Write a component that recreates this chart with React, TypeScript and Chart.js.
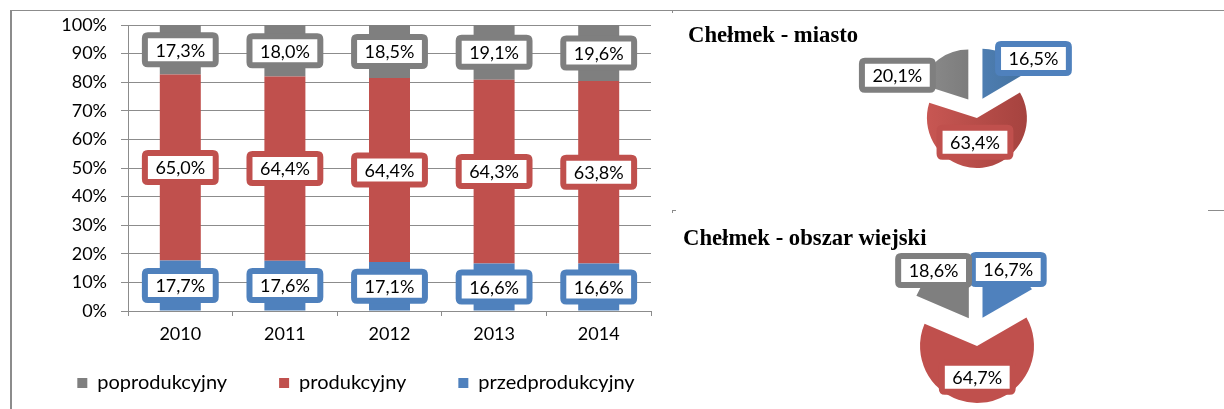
import { useEffect, useRef } from "react";
import { Chart, registerables } from "chart.js";

Chart.register(...registerables);

// ---------- data ----------
const years = ["2010", "2011", "2012", "2013", "2014"];
const przedprodukcyjny = [17.7, 17.6, 17.1, 16.6, 16.6];
const produkcyjny = [65.0, 64.4, 64.4, 64.3, 63.8];
const poprodukcyjny = [17.3, 18.0, 18.5, 19.1, 19.6];

const seriesNames = ["przedprodukcyjny", "produkcyjny", "poprodukcyjny"];
const miastoValues = [16.5, 63.4, 20.1];
const wiejskiValues = [16.7, 64.7, 18.6];
const pieTitles = ["Chełmek - miasto", "Chełmek - obszar wiejski"];

// ---------- styles ----------
const BLUE = "#4F81BD";
const RED = "#C0504D";
const GRAY = "#7F7F7F";
const GRID = "#8C8C8C";
const FONT = "Lato, 'Open Sans', sans-serif";
const TEXT = "#000000";
const PIE_COLORS = [BLUE, RED, GRAY];
// light/dark ends for the shaded (city) pie
const SHADE = [
  ["#5A8CC8", "#44729F"],
  ["#C85753", "#A6433F"],
  ["#8A8A8A", "#6A6A6A"],
];

const fmt = (v: number) => v.toFixed(1).replace(".", ",") + "%";

function drawLabelBox(ctx: CanvasRenderingContext2D, x: number, y: number, text: string, color: string) {
  ctx.save();
  ctx.font = `18px ${FONT}`;
  const tw = ctx.measureText(text).width;
  const w = tw + 21;
  const h = 29;
  const r = 3;
  const l = x - w / 2, t = y - h / 2;
  ctx.beginPath();
  ctx.moveTo(l + r, t);
  ctx.lineTo(l + w - r, t);
  ctx.quadraticCurveTo(l + w, t, l + w, t + r);
  ctx.lineTo(l + w, t + h - r);
  ctx.quadraticCurveTo(l + w, t + h, l + w - r, t + h);
  ctx.lineTo(l + r, t + h);
  ctx.quadraticCurveTo(l, t + h, l, t + h - r);
  ctx.lineTo(l, t + r);
  ctx.quadraticCurveTo(l, t, l + r, t);
  ctx.closePath();
  ctx.fillStyle = "#ffffff";
  ctx.fill();
  ctx.lineWidth = 6;
  ctx.strokeStyle = color;
  ctx.stroke();
  ctx.fillStyle = TEXT;
  ctx.textAlign = "center";
  ctx.textBaseline = "middle";
  ctx.fillText(text, x, y + 1);
  ctx.restore();
}

const barLabelPlugin = {
  id: "barLabels",
  afterDatasetsDraw(chart: any) {
    const ctx = chart.ctx;
    chart.data.datasets.forEach((ds: any, di: number) => {
      const meta = chart.getDatasetMeta(di);
      meta.data.forEach((bar: any, i: number) => {
        const { x, y, base } = bar.getProps(["x", "y", "base"], true);
        drawLabelBox(ctx, x, (y + base) / 2, fmt(ds.data[i]), ds.backgroundColor);
      });
    });
  },
};

// moves the top of the legend box up so that its wide item spacing fits
const legendShiftPlugin = {
  id: "legendShift",
  afterLayout(chart: any, _args: any, opts: any) {
    const lg = chart.legend;
    if (lg && opts && opts.dy) {
      lg.top += opts.dy;
    }
  },
};

const piePlugin = {
  id: "pieExtras",
  afterDatasetUpdate(chart: any, args: any, opts: any) {
    const meta = chart.getDatasetMeta(args.index);
    meta.data.forEach((arc: any, i: number) => {
      const mid = (arc.startAngle + arc.endAngle) / 2;
      const d = (opts.explode && opts.explode[i]) || 0;
      arc.x += Math.cos(mid) * d;
      arc.y += Math.sin(mid) * d;
    });
  },
  afterDatasetsDraw(chart: any, _args: any, opts: any) {
    const ctx = chart.ctx;
    const meta = chart.getDatasetMeta(0);
    const ds = chart.data.datasets[0];
    meta.data.forEach((arc: any, i: number) => {
      const ang = (arc.startAngle + arc.endAngle) / 2 + (opts.labelShift[i] * Math.PI) / 180;
      const dist = opts.labelDist[i] * arc.outerRadius;
      drawLabelBox(ctx, arc.x + Math.cos(ang) * dist, arc.y + Math.sin(ang) * dist, fmt(ds.data[i]), PIE_COLORS[i]);
    });
  },
};

function makePie(canvas: HTMLCanvasElement, values: number[], radius: number, shaded: boolean, extras: any) {
  const bg = shaded
    ? (c: any) => {
        const area = c.chart.chartArea;
        if (!area) return PIE_COLORS[c.dataIndex];
        const cx = (area.left + area.right) / 2;
        const g = c.chart.ctx.createLinearGradient(cx - radius, 0, cx + radius, 0);
        g.addColorStop(0, SHADE[c.dataIndex][0]);
        g.addColorStop(1, SHADE[c.dataIndex][1]);
        return g;
      }
    : PIE_COLORS;
  return new Chart(canvas, {
    type: "pie",
    data: {
      labels: seriesNames,
      datasets: [
        {
          data: values,
          backgroundColor: bg,
          borderWidth: 0,
          radius: radius,
        } as any,
      ],
    },
    options: {
      animation: false,
      responsive: false,
      events: [],
      layout: { padding: 0 },
      plugins: {
        legend: { display: false },
        tooltip: { enabled: false },
        pieExtras: extras,
      } as any,
    },
    plugins: [piePlugin],
  });
}

export default function App() {
  const barRef = useRef<HTMLCanvasElement>(null);
  const pie1Ref = useRef<HTMLCanvasElement>(null);
  const pie2Ref = useRef<HTMLCanvasElement>(null);

  useEffect(() => {
    const tickFont = { family: FONT, size: 18 };
    const bar = new Chart(barRef.current!, {
      type: "bar",
      data: {
        labels: years,
        datasets: [
          { label: seriesNames[0], data: przedprodukcyjny, backgroundColor: BLUE, borderWidth: 0 },
          { label: seriesNames[1], data: produkcyjny, backgroundColor: RED, borderWidth: 0 },
          { label: seriesNames[2], data: poprodukcyjny, backgroundColor: GRAY, borderWidth: 0 },
        ],
      },
      options: {
        animation: false,
        responsive: false,
        events: [],
        layout: { padding: { left: 6, right: 0, top: 25, bottom: 0 } },
        datasets: { bar: { barPercentage: 0.392, categoryPercentage: 1 } },
        scales: {
          x: {
            stacked: true,
            grid: { offset: true, drawOnChartArea: false, drawTicks: true, tickLength: 5, color: GRID },
            border: { color: GRID },
            ticks: { font: tickFont, color: TEXT, padding: 7 },
            afterFit: (s: any) => {
              s.height = 40;
            },
          },
          y: {
            stacked: true,
            min: 0,
            max: 100,
            ticks: { stepSize: 10, callback: (v: any) => v + "%", font: tickFont, color: TEXT, padding: 14 },
            grid: { color: GRID, tickLength: 7 },
            border: { color: GRID },
            afterFit: (s: any) => {
              s.width = 122;
            },
          },
          // empty right-hand spacer so that the legend can be wider than the plot
          spacer: {
            type: "linear",
            position: "right",
            grid: { display: false, drawTicks: false },
            border: { display: false },
            ticks: { display: false },
            afterFit: (s: any) => {
              s.width = 55;
            },
          },
        } as any,
        plugins: {
          legend: {
            position: "bottom",
            reverse: true,
            maxHeight: 58,
            labels: { boxWidth: 10, boxHeight: 10, padding: 52, font: { family: FONT, size: 20 }, color: TEXT },
          },
          legendShift: { dy: -30 },
          tooltip: { enabled: false },
        } as any,
      },
      plugins: [barLabelPlugin, legendShiftPlugin],
    });

    const p1 = makePie(pie1Ref.current!, miastoValues, 50, true, {
      explode: [13, 8, 13],
      labelDist: [1.3, 0.49, 1.5],
      labelShift: [22, 11, -35],
    });
    const p2 = makePie(pie2Ref.current!, wiejskiValues, 57, false, {
      explode: [13, 17, 13],
      labelDist: [0.96, 0.55, 1.04],
      labelShift: [-2, 3, -3],
    });

    return () => {
      bar.destroy();
      p1.destroy();
      p2.destroy();
    };
  }, []);

  const line = (s: any) => <div style={{ position: "absolute", background: GRID, ...s }} />;
  const titleStyle: any = {
    position: "absolute",
    fontFamily: "'Liberation Serif', 'Times New Roman', serif",
    fontWeight: "bold",
    fontSize: 22.7,
    lineHeight: "22px",
    color: "#000",
    whiteSpace: "nowrap",
  };

  return (
    <div style={{ position: "absolute", left: 0, top: 0, width: 1224, height: 409, overflow: "hidden", background: "#fff" }}>
      {line({ left: 10, top: 10, width: 2, height: 399 })}
      {line({ left: 11, top: 10, width: 1213, height: 1 })}
      {line({ left: 672, top: 10, width: 1, height: 3 })}
      {line({ left: 672, top: 210, width: 4, height: 1 })}
      {line({ left: 672, top: 210, width: 1, height: 3 })}
      {line({ left: 1208, top: 210, width: 16, height: 1 })}
      <canvas ref={barRef} width={706} height={409} style={{ position: "absolute", left: 0, top: 0, width: 706, height: 409 }} />
      <div style={{ ...titleStyle, left: 688, top: 24 }}>{pieTitles[0]}</div>
      <div style={{ ...titleStyle, left: 683, top: 227 }}>{pieTitles[1]}</div>
      <canvas ref={pie1Ref} width={300} height={200} style={{ position: "absolute", left: 826, top: 10, width: 300, height: 200 }} />
      <canvas ref={pie2Ref} width={300} height={200} style={{ position: "absolute", left: 826, top: 229, width: 300, height: 200 }} />
    </div>
  );
}
